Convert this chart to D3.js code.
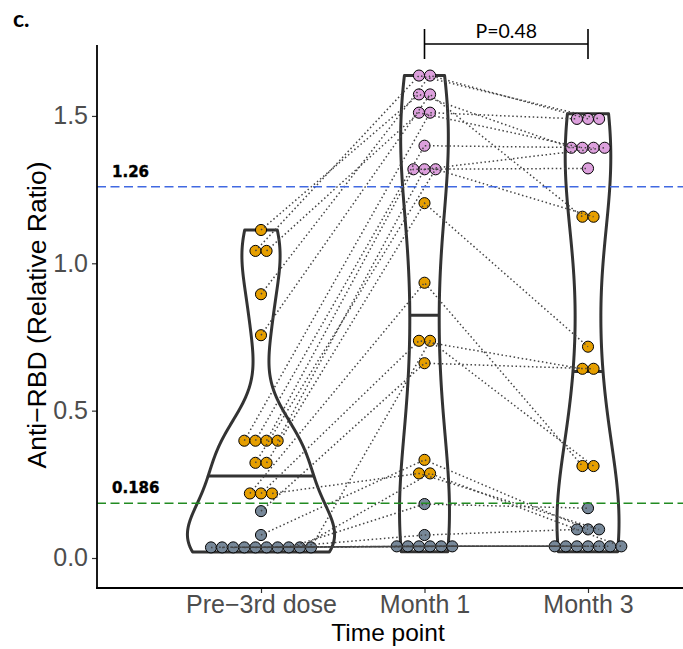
<!DOCTYPE html>
<html><head><meta charset="utf-8">
<script src="https://cdn.jsdelivr.net/npm/d3@7"></script>
<style>body{margin:0;background:#fff} svg{display:block}</style>
</head><body><svg id="c" width="683" height="649"></svg>
<script>
// ---------------- DATA ----------------
const timepoints = ["Pre\u22123rd dose", "Month 1", "Month 3"];
// one entry per subject (same index = same subject across time points)
const pre3rd = [1.113,1.042,1.042,0.895,0.756,0.398,0.398,0.398,0.398,0.323,0.323,0.219,0.219,0.052,0.159,0.078,0.219,0.048,0.044,0.040,0.037,0.034,0.031,0.028,0.024,0.020];
const month1 = [1.573,1.637,1.511,1.637,1.573,1.511,1.399,1.319,1.319,1.319,1.204,0.934,0.737,0.737,0.661,0.333,0.287,0.287,0.183,0.078,0.058,0.050,0.042,0.034,0.027,0.021];
const month3 = [1.392,1.507,1.392,1.490,1.158,1.473,1.392,1.322,1.392,1.158,0.717,0.312,0.642,0.312,0.642,0.097,0.104,0.058,0.169,0.090,0.053,0.047,0.040,0.033,0.026,0.021];
const thresholds = [1.26, 0.186];
const thresholdLabels = ["1.26", "0.186"];
const thresholdColors = ["#4169E1", "#228B22"];
const yTicks = [0, 0.5, 1.0, 1.5];
const pLabel = "P=0.48";
const panelLabel = "c.";
const yTitle = "Anti\u2212RBD (Relative Ratio)";
const xTitle = "Time point";

// ---------------- LAYOUT ----------------
const svg = d3.select("#c");
const y = d3.scaleLinear().domain([-0.1018, 1.7407]).range([588, 45]);
const x = d3.scalePoint().domain(timepoints).range([261, 588]);
const catW = x(timepoints[1]) - x(timepoints[0]);
const binwidth = 0.0377;
const dotR = (y(0) - y(binwidth)) / 2;
const groups = [pre3rd, month1, month3];
const sans = "Liberation Sans, Arial, sans-serif";

function colorOf(v) { return v < thresholds[1] ? "#778899" : (v < thresholds[0] ? "#E69F00" : "#DDA0DD"); }

// KDE like R density (gaussian, bw.nrd0), trimmed to data range
function bwNrd0(v) {
  const s = d3.sort(v);
  const hi = d3.deviation(s);
  const iqr = d3.quantileSorted(s, 0.75) - d3.quantileSorted(s, 0.25);
  let lo = Math.min(hi, iqr / 1.34);
  if (!(lo > 0)) lo = hi || Math.abs(s[0]) || 1;
  return 0.9 * lo * Math.pow(s.length, -0.2);
}
function kde(v) {
  const bw = bwNrd0(v), n = 512;
  const mn = d3.min(v), mx = d3.max(v);
  const out = [];
  for (let i = 0; i < n; i++) {
    const t = mn + (mx - mn) * i / (n - 1);
    let s = 0;
    for (const xi of v) { const u = (t - xi) / bw; s += Math.exp(-0.5 * u * u); }
    out.push({ v: t, d: s / (v.length * bw * Math.sqrt(2 * Math.PI)) });
  }
  return out;
}
const dens = groups.map(kde);
const maxD = d3.max(dens, g => d3.max(g, p => p.d));
const halfW = 0.45 * catW;

// violins
const gV = svg.append("g");
dens.forEach((g, gi) => {
  const cx = x(timepoints[gi]);
  const area = d3.area().y(p => y(p.v)).x0(p => cx - p.d / maxD * halfW).x1(p => cx + p.d / maxD * halfW);
  gV.append("path").attr("d", area(g)).attr("fill", "#fff").attr("stroke", "#333").attr("stroke-width", 3).attr("stroke-linejoin", "round");
  // median from density
  const tot = d3.sum(g, p => p.d);
  let c = 0, q = g[g.length - 1];
  for (let i = 0; i < g.length; i++) {
    const prev = c; c += g[i].d;
    if (c / tot >= 0.5) {
      if (i > 0) {
        const f = (0.5 - prev / tot) / ((c - prev) / tot);
        q = { v: g[i - 1].v + f * (g[i].v - g[i - 1].v), d: g[i - 1].d + f * (g[i].d - g[i - 1].d) };
      } else q = g[i];
      break;
    }
  }
  const w = q.d / maxD * halfW;
  gV.append("line").attr("x1", cx - w).attr("x2", cx + w).attr("y1", y(q.v)).attr("y2", y(q.v)).attr("stroke", "#333").attr("stroke-width", 3);
});

// dot-density binning (ggplot dotdensity) -> positions per subject
const pos = groups.map((vals, gi) => {
  const cx = x(timepoints[gi]);
  const idx = d3.range(vals.length).sort((a, b) => vals[a] - vals[b] || a - b);
  const res = new Array(vals.length);
  let i = 0;
  while (i < idx.length) {
    const start = vals[idx[i]], end = start + binwidth;
    const members = [];
    while (i < idx.length && vals[idx[i]] < end) { members.push(idx[i]); i++; }
    const center = (vals[members[0]] + vals[members[members.length - 1]]) / 2;
    members.forEach((m, k) => {
      res[m] = { x: cx + (k - (members.length - 1) / 2) * 2 * dotR, y: y(center), v: vals[m] };
    });
  }
  return res;
});

// points
const gP = svg.append("g");
pos.forEach(g => g.forEach(p => {
  gP.append("circle").attr("cx", p.x).attr("cy", p.y).attr("r", dotR)
    .attr("fill", colorOf(p.v)).attr("stroke", "#000").attr("stroke-width", 1);
}));

// subject lines
const line = d3.line().x(p => p.x).y(p => p.y);
const gL = svg.append("g");
pre3rd.forEach((_, si) => {
  gL.append("path").attr("d", line([pos[0][si], pos[1][si], pos[2][si]]))
    .attr("fill", "none").attr("stroke", "#444").attr("stroke-width", 1.5).attr("stroke-dasharray", "1.5,2.6");
});

// thresholds
thresholds.forEach((t, i) => {
  svg.append("line").attr("x1", 97).attr("x2", 683).attr("y1", y(t)).attr("y2", y(t))
    .attr("stroke", thresholdColors[i]).attr("stroke-width", 1.5).attr("stroke-dasharray", "9,4.5");
  svg.append("text").attr("x", 112).attr("y", y(t) - 10).text(thresholdLabels[i])
    .attr("font-family", "DejaVu Sans").attr("font-weight", "bold").attr("font-size", 15)
    .attr("fill", "#000").attr("stroke", "#000").attr("stroke-width", 0.4);
});

// axes
const yAxis = svg.append("g").attr("transform", "translate(97,0)")
  .call(d3.axisLeft(y).tickValues(yTicks).tickFormat(d3.format(".1f")).tickSize(5).tickPadding(4));
const xAxis = svg.append("g").attr("transform", "translate(0,588)")
  .call(d3.axisBottom(x).tickSize(5).tickPadding(2));
[yAxis, xAxis].forEach(a => {
  a.select(".domain").remove();
  a.selectAll(".tick line").attr("stroke", "#333").attr("stroke-width", 1.2);
  a.selectAll(".tick text").attr("fill", "#4D4D4D").attr("font-family", sans).attr("font-size", 25);
});
svg.append("line").attr("x1", 97).attr("x2", 97).attr("y1", 45).attr("y2", 589).attr("stroke", "#000").attr("stroke-width", 1.8);
svg.append("line").attr("x1", 96).attr("x2", 683).attr("y1", 588).attr("y2", 588).attr("stroke", "#000").attr("stroke-width", 1.8);

// titles
svg.append("text").attr("transform", "translate(46,315) rotate(-90)").attr("text-anchor", "middle")
  .attr("font-family", sans).attr("font-size", 26.5).text(yTitle);
svg.append("text").attr("x", 388).attr("y", 641).attr("text-anchor", "middle")
  .attr("font-family", sans).attr("font-size", 24.5).text(xTitle);
svg.append("text").attr("x", 13).attr("y", 27).attr("font-family", "Lato, sans-serif").attr("font-weight", "bold").attr("font-size", 23).text(panelLabel);

// bracket
const bx1 = x(timepoints[1]), bx2 = x(timepoints[2]);
svg.append("path").attr("d", `M${bx1},29V59M${bx1},44H${bx2}M${bx2},29V59`).attr("fill", "none").attr("stroke", "#000").attr("stroke-width", 1.6);
svg.append("text").attr("x", (bx1 + bx2) / 2).attr("y", 38).attr("text-anchor", "middle")
  .attr("font-family", "Lato, sans-serif").attr("font-size", 19.5).text(pLabel);
</script></body></html>
